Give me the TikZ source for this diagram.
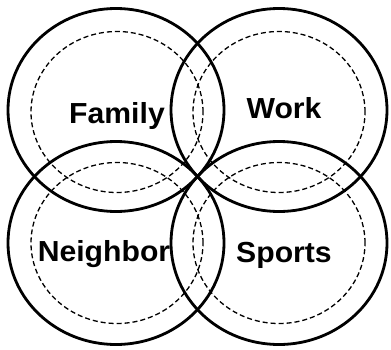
\documentclass[tikz,border=0pt]{standalone}
\usepackage{fontspec}
\setmainfont{Liberation Sans}
\usetikzlibrary{shapes.geometric}
\begin{document}
\begin{tikzpicture}[x=1pt,y=-1pt,
  outer/.style={ellipse,draw,line width=2.8pt,minimum width=216pt,minimum height=203pt,inner sep=0pt},
  inner/.style={ellipse,draw,line width=1.3pt,dash pattern=on 5pt off 3pt,minimum width=172pt,minimum height=161pt,inner sep=0pt},
  lbl/.style={font=\fontsize{29}{30}\selectfont\bfseries,anchor=base,inner sep=0pt,xscale=1.04}]
\useasboundingbox (0,0) rectangle (391,349);
\node[outer] (oTL) at (116,110) {};
\node[outer] (oTR) at (279,110) {};
\node[outer] (oBL) at (116,243) {};
\node[outer] (oBR) at (279,243) {};
\node[inner] (iTL) at (117,112) {};
\node[inner] (iTR) at (279,112) {};
\node[inner] (iBL) at (117,243) {};
\node[inner] (iBR) at (279,243) {};
\node[lbl] (family) at (117,123) {Family};
\node[lbl] (work) at (284,118) {Work};
\node[lbl] (neighbor) at (104,261) {Neighbor};
\node[lbl] (sports) at (284,262) {Sports};
\end{tikzpicture}
\end{document}
